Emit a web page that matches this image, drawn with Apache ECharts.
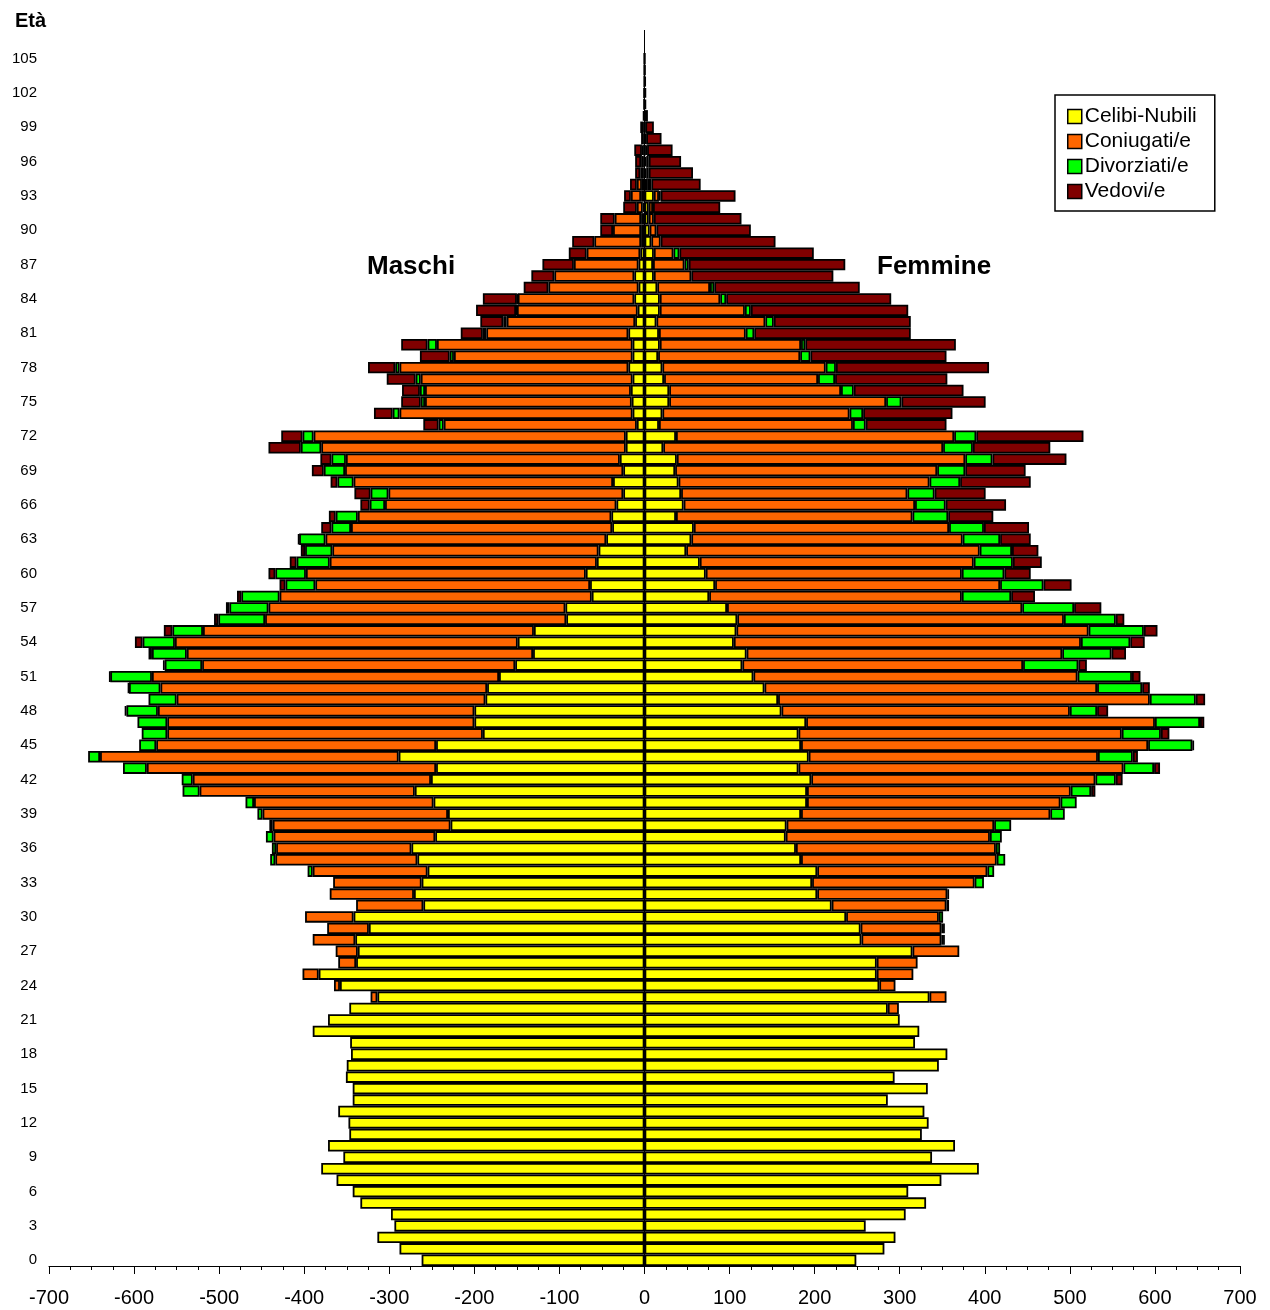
<!DOCTYPE html>
<html lang="it" style="height: 100%">
<head>
    <meta charset="utf-8"/>
    <meta name="viewport" content="width=device-width, initial-scale=1.0"/>
</head>
<body style="height: 100%; margin: 0; overflow: hidden; background: #fff">
<div id="container" style="width: 1270px; height: 1310px"></div>

<script type="text/javascript" src="https://cdn.jsdelivr.net/npm/echarts@6/dist/echarts.min.js"></script>

<script type="text/javascript">
    // eta' 0..105 (+2 righe vuote in cima)
    var ages = [];
    for (var a = 0; a <= 107; a++) ages.push(String(a));

    // Maschi (valori positivi, resi negativi sotto)
    var mCelibi = [
        262, 288, 314, 294, 298, 334, 343, 362, 380, 354,
        372, 347, 348, 360, 343, 343, 351, 350, 345, 346,
        390, 372, 347, 314, 358, 383, 339, 337, 340, 324,
        342, 260, 271, 262, 255, 267, 274, 246, 228, 231,
        248, 270, 251, 245, 289, 245, 190, 200, 200, 187,
        185, 171, 152, 131, 149, 130, 92, 93, 62, 64,
        69, 56, 54, 45, 38, 39, 33, 25, 37, 25,
        29, 22, 22, 9, 14, 15, 16, 14, 19, 14,
        14, 19, 11, 8, 12, 7, 12, 7, 5, 4,
        4, 4, 2, 4, 3, 1, 1, 1, 0, 0,
        0, 0, 0, 0, 0, 0
    ];
    var mConiugati = [
        0, 0, 0, 0, 0, 0, 0, 0, 0, 0,
        0, 0, 0, 0, 0, 0, 0, 0, 0, 0,
        0, 0, 0, 8, 7, 19, 21, 26, 50, 49,
        57, 79, 99, 104, 135, 167, 159, 190, 209, 218,
        211, 253, 280, 340, 351, 329, 371, 361, 372, 363,
        384, 408, 368, 407, 403, 389, 354, 349, 367, 323,
        329, 314, 313, 330, 307, 298, 272, 276, 305, 327,
        322, 358, 367, 227, 274, 243, 242, 249, 269, 210,
        230, 167, 151, 142, 137, 106, 94, 76, 63, 55,
        33, 31, 7, 12, 6, 4, 3, 2, 1, 1,
        0, 0, 0, 0, 0, 0
    ];
    var mDivorziati = [
        0, 0, 0, 0, 0, 0, 0, 0, 0, 0,
        0, 0, 0, 0, 0, 0, 0, 0, 0, 0,
        0, 0, 0, 0, 0, 0, 0, 0, 0, 0,
        0, 0, 0, 0, 6, 6, 5, 9, 4, 6,
        10, 20, 13, 28, 14, 20, 30, 35, 37, 33,
        37, 49, 44, 41, 38, 36, 55, 46, 45, 35,
        36, 39, 32, 31, 23, 26, 18, 21, 19, 25,
        17, 24, 13, 6, 8, 5, 6, 6, 5, 5,
        11, 4, 4, 1, 1, 0, 0, 0, 0, 0,
        0, 0, 0, 0, 0, 0, 0, 0, 0, 0,
        0, 0, 0, 0, 0, 0
    ];
    var mVedovi = [
        0, 0, 0, 0, 0, 0, 0, 0, 0, 0,
        0, 0, 0, 0, 0, 0, 0, 0, 0, 0,
        0, 0, 0, 0, 0, 0, 0, 0, 0, 0,
        0, 0, 0, 0, 0, 0, 0, 0, 0, 0,
        0, 0, 0, 0, 0, 0, 0, 0, 2, 0,
        1, 1, 2, 4, 9, 10, 5, 4, 5, 7,
        8, 8, 5, 1, 12, 8, 11, 19, 8, 14,
        13, 38, 25, 18, 22, 23, 21, 34, 32, 35,
        31, 26, 27, 47, 40, 29, 27, 37, 21, 26,
        15, 17, 16, 8, 8, 6, 7, 9, 3, 4,
        2, 1, 1, 0.5, 0.5, 0.3
    ];

    // Femmine
    var fNubili = [
        249, 282, 295, 260, 307, 331, 310, 349, 393, 338,
        365, 326, 334, 329, 286, 333, 294, 346, 356, 318,
        323, 300, 286, 335, 276, 273, 273, 315, 255, 254,
        237, 220, 203, 197, 203, 184, 178, 166, 167, 184,
        191, 191, 196, 181, 193, 184, 181, 190, 161, 157,
        141, 128, 115, 120, 105, 108, 109, 97, 76, 83,
        72, 65, 49, 55, 58, 37, 46, 43, 40, 36,
        38, 22, 37, 17, 21, 29, 29, 23, 21, 16,
        18, 17, 14, 18, 18, 15, 11, 10, 11, 8,
        6, 5, 5, 11, 4, 2, 2, 1, 1, 1,
        0, 0, 0, 0, 0, 0
    ];
    var fConiugate = [
        0, 0, 0, 0, 0, 0, 0, 0, 0, 0,
        0, 0, 0, 0, 0, 0, 0, 0, 0, 0,
        0, 0, 13, 20, 19, 43, 48, 55, 94, 95,
        109, 135, 153, 191, 200, 230, 235, 240, 244, 293,
        298, 310, 334, 382, 340, 408, 380, 410, 339, 437,
        391, 381, 330, 371, 408, 414, 384, 347, 297, 335,
        301, 322, 345, 319, 300, 278, 272, 266, 295, 308,
        339, 329, 327, 228, 220, 255, 202, 181, 192, 167,
        166, 102, 128, 100, 71, 62, 44, 37, 23, 11,
        8, 6, 5, 6, 4, 3, 3, 2, 1, 0,
        0, 0, 0, 0, 0, 0
    ];
    var fDivorziate = [
        0, 0, 0, 0, 0, 0, 0, 0, 0, 0,
        0, 0, 0, 0, 0, 0, 0, 0, 0, 0,
        0, 0, 0, 0, 0, 0, 0, 0, 2, 2,
        5, 3, 2, 11, 8, 10, 5, 14, 20, 17,
        19, 24, 24, 36, 41, 52, 46, 53, 32, 54,
        53, 64, 65, 58, 58, 65, 61, 61, 58, 51,
        50, 46, 38, 44, 41, 42, 36, 32, 36, 33,
        32, 35, 26, 15, 16, 18, 15, 20, 12, 12,
        5, 10, 10, 7, 7, 5, 0, 5, 7, 0,
        0, 0, 0, 2, 0, 0, 0, 0, 0, 0,
        0, 0, 0, 0, 0, 0
    ];
    var fVedove = [
        0, 0, 0, 0, 0, 0, 0, 0, 0, 0,
        0, 0, 0, 0, 0, 0, 0, 0, 0, 0,
        0, 0, 0, 0, 0, 0, 0, 0, 2, 2,
        0, 0, 0, 0, 0, 0, 0, 0, 0, 0,
        0, 5, 8, 7, 6, 2, 10, 5, 13, 11,
        9, 10, 10, 17, 17, 16, 10, 32, 28, 33,
        31, 34, 31, 36, 53, 53, 71, 60, 83, 71,
        87, 91, 126, 95, 105, 99, 129, 132, 180, 160,
        177, 184, 161, 185, 194, 171, 167, 184, 158, 135,
        111, 103, 79, 88, 58, 52, 38, 30, 18, 10,
        4, 2, 2, 1.5, 1, 0.5
    ];

    var names = ["Celibi-Nubili", "Coniugati/e", "Divorziati/e", "Vedovi/e"];
    var colors = ["#FFFF00", "#FF6600", "#00FF00", "#800000"];
    var maleData = [mCelibi, mConiugati, mDivorziati, mVedovi];
    var femaleData = [fNubili, fConiugate, fDivorziate, fVedove];

    var FONT = "Arial, 'Liberation Sans', sans-serif";

    function toSeries(arr, sign) {
        return arr.map(function (v) {
            return v === 0 ? null : sign * v;
        });
    }

    var dom = document.getElementById("container");
    var myChart = echarts.init(dom, null, {renderer: "canvas"});

    var series = [];
    for (var i = 0; i < 4; i++) {
        series.push({
            name: names[i],
            type: "bar",
            stack: "maschi",
            barCategoryGap: "0%",
            barGap: "-100%",
            itemStyle: {color: colors[i], borderColor: "#000", borderWidth: 1.8},
            data: toSeries(maleData[i], -1)
        });
    }
    for (var j = 0; j < 4; j++) {
        series.push({
            name: names[j],
            type: "bar",
            stack: "femmine",
            barCategoryGap: "0%",
            barGap: "-100%",
            itemStyle: {color: colors[j], borderColor: "#000", borderWidth: 1.8},
            data: toSeries(femaleData[j], 1)
        });
    }
    // linea verticale sullo zero
    series[0].markLine = {
        silent: true,
        symbol: "none",
        label: {show: false},
        lineStyle: {color: "#000", width: 1, type: "solid"},
        data: [{xAxis: 0}]
    };

    var option = {
        animation: false,
        backgroundColor: "#fff",
        title: {
            text: "Età",
            left: 10,
            top: 6,
            textStyle: {fontFamily: FONT, fontSize: 20, fontWeight: "bold", color: "#000"}
        },
        legend: {
            data: names,
            orient: "vertical",
            left: 1055,
            top: 95,
            padding: [11, 18, 9, 12],
            itemWidth: 14,
            itemHeight: 14,
            itemGap: 4,
            borderColor: "#000",
            borderWidth: 1.5,
            backgroundColor: "#fff",
            itemStyle: {borderColor: "#000", borderWidth: 1.5},
            textStyle: {fontFamily: FONT, fontSize: 21, color: "#000", lineHeight: 21, padding: [0, 0, 0, -2]},
            icon: "rect"
        },
        graphic: [
            {
                type: "text",
                left: 367,
                top: 254,
                style: {text: "Maschi", font: "bold 26px " + FONT, fill: "#000"}
            },
            {
                type: "text",
                left: 877,
                top: 254,
                style: {text: "Femmine", font: "bold 26px " + FONT, fill: "#000"}
            }
        ],
        grid: {
            left: 49,
            right: 30,
            top: 30,
            bottom: 44,
            containLabel: false,
            outerBoundsMode: "none"
        },
        xAxis: {
            type: "value",
            min: -700,
            max: 700,
            interval: 100,
            axisLine: {show: true, onZero: false, lineStyle: {color: "#000", width: 1}},
            axisTick: {show: true, length: 8, lineStyle: {color: "#000"}},
            minorTick: {show: true, splitNumber: 4, length: 4, lineStyle: {color: "#000"}},
            splitLine: {show: false},
            axisLabel: {fontFamily: FONT, fontSize: 20, color: "#000", margin: 22}
        },
        yAxis: {
            type: "category",
            data: ages,
            axisLine: {show: false},
            axisTick: {show: false},
            splitLine: {show: false},
            axisLabel: {interval: 2, fontFamily: FONT, fontSize: 15, color: "#000", margin: 12}
        },
        series: series
    };

    myChart.setOption(option);
    window.addEventListener("resize", myChart.resize);
</script>
</body>
</html>
